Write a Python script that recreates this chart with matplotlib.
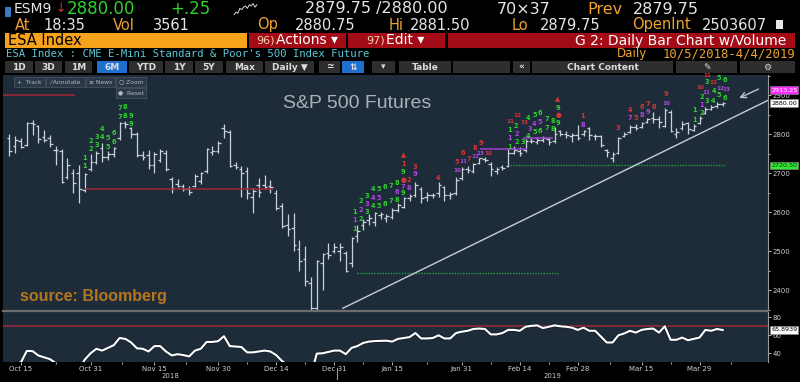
import matplotlib.pyplot as plt
import matplotlib.patches as patches
from matplotlib.lines import Line2D
import pandas as pd

W, H = 800, 382
NAVY = '#1e2c3a'
BAR = '#c9d1d9'
GREEN = '#2ed12e'
PURPLE = '#b046e0'
RED = '#d83434'
ORANGE = '#eda232'

# daily bars, first bar = 11 Oct 2018, last = 4 Apr 2019
opens = [2790, 2770, 2782, 2772, 2828, 2822, 2792, 2790, 2760, 2758,
         2690, 2700, 2700, 2658, 2712, 2730, 2765, 2742, 2750, 2790,
         2828, 2815, 2800, 2748, 2748, 2720, 2735, 2752, 2685, 2672,
         2668, 2660, 2668, 2680, 2705, 2755, 2758, 2815, 2805, 2722,
         2712, 2705, 2640, 2670, 2670, 2668, 2650, 2615, 2568, 2560,
         2505, 2480, 2420, 2355, 2470, 2495, 2500, 2500, 2495, 2470,
         2538, 2568, 2580, 2575, 2592, 2585, 2588, 2606, 2614, 2636,
         2645, 2660, 2640, 2645, 2650, 2665, 2645, 2650, 2688, 2712,
         2705, 2726, 2736, 2725, 2705, 2715, 2718, 2752, 2758, 2760,
         2782, 2780, 2786, 2788, 2782, 2808, 2800, 2795, 2798, 2800,
         2815, 2795, 2795, 2760, 2740, 2752, 2795, 2805, 2818, 2818,
         2832, 2842, 2840, 2820, 2858, 2800, 2815, 2828, 2810, 2830,
         2855, 2866, 2872, 2877]
highs = [2802, 2795, 2790, 2832, 2836, 2824, 2812, 2798, 2770, 2762,
         2738, 2712, 2722, 2700, 2750, 2758, 2778, 2756, 2768, 2831,
         2834, 2818, 2805, 2758, 2760, 2755, 2762, 2760, 2690, 2685,
         2672, 2668, 2698, 2703, 2765, 2770, 2782, 2826, 2810, 2728,
         2718, 2716, 2662, 2688, 2696, 2682, 2656, 2624, 2595, 2598,
         2528, 2513, 2435, 2478, 2495, 2522, 2520, 2522, 2500, 2537,
         2568, 2582, 2595, 2600, 2600, 2595, 2610, 2624, 2640, 2648,
         2678, 2664, 2652, 2650, 2678, 2668, 2652, 2690, 2716, 2718,
         2726, 2740, 2742, 2730, 2715, 2722, 2762, 2770, 2768, 2788,
         2790, 2792, 2795, 2792, 2819, 2812, 2808, 2804, 2824, 2812,
         2818, 2800, 2798, 2762, 2755, 2794, 2806, 2825, 2826, 2832,
         2842, 2858, 2848, 2867, 2862, 2815, 2835, 2832, 2826, 2846,
         2870, 2874, 2884, 2883]
lows = [2745, 2752, 2765, 2770, 2798, 2778, 2780, 2768, 2720, 2675,
        2685, 2650, 2623, 2652, 2705, 2725, 2730, 2735, 2742, 2785,
        2815, 2790, 2742, 2734, 2712, 2700, 2728, 2705, 2650, 2665,
        2655, 2645, 2665, 2672, 2700, 2748, 2752, 2790, 2716, 2712,
        2640, 2635, 2598, 2640, 2660, 2650, 2605, 2560, 2540, 2500,
        2450, 2410, 2335, 2320, 2400, 2480, 2495, 2475, 2447, 2460,
        2525, 2555, 2568, 2565, 2582, 2575, 2582, 2600, 2610, 2628,
        2640, 2624, 2630, 2636, 2640, 2628, 2635, 2645, 2683, 2700,
        2700, 2724, 2728, 2692, 2698, 2708, 2715, 2750, 2745, 2755,
        2778, 2774, 2780, 2772, 2778, 2795, 2790, 2780, 2785, 2795,
        2786, 2785, 2768, 2742, 2728, 2750, 2792, 2803, 2812, 2815,
        2828, 2830, 2815, 2818, 2805, 2790, 2812, 2800, 2808, 2826,
        2852, 2862, 2868, 2872]
closes = [2758, 2785, 2768, 2828, 2827, 2788, 2786, 2774, 2760, 2678,
          2722, 2676, 2660, 2698, 2730, 2752, 2742, 2750, 2764, 2830,
          2826, 2800, 2746, 2741, 2722, 2750, 2756, 2710, 2662, 2668,
          2660, 2652, 2694, 2700, 2763, 2756, 2778, 2808, 2718, 2716,
          2700, 2650, 2654, 2652, 2665, 2664, 2612, 2566, 2558, 2515,
          2475, 2425, 2355, 2475, 2492, 2490, 2512, 2512, 2450, 2533,
          2553, 2576, 2586, 2598, 2596, 2590, 2606, 2618, 2636, 2642,
          2670, 2636, 2645, 2644, 2670, 2645, 2648, 2684, 2710, 2708,
          2724, 2738, 2734, 2712, 2712, 2714, 2752, 2760, 2752, 2782,
          2784, 2786, 2790, 2780, 2800, 2802, 2799, 2798, 2790, 2808,
          2798, 2795, 2772, 2755, 2750, 2790, 2800, 2818, 2815, 2830,
          2840, 2838, 2831, 2862, 2808, 2806, 2826, 2813, 2822, 2842,
          2866, 2871, 2878, 2880]
rsi = [26, 28, 30, 42.6, 42.4, 37.5, 35.5, 33.5, 29, 22,
       27, 24, 22, 33, 40, 45, 43, 46, 49, 57,
       56, 52, 45.5, 45, 42, 48, 48, 42, 37.6, 39,
       38, 36.5, 43, 45, 52.6, 52.6, 53.5, 59, 48, 47.5,
       47, 41, 41, 42, 43, 42, 38, 31.5, 27, 24,
       21, 19, 16, 39.6, 40, 41.5, 43, 43, 39, 46,
       48, 51.5, 53, 53.6, 53.8, 54, 53, 56, 57, 58,
       62.5, 56.5, 56.5, 57, 60, 56.5, 56.5, 62.5, 64, 65,
       67, 67.5, 67, 61, 61, 62.5, 66, 66, 65, 69.5,
       70.5, 71, 68, 69.5, 71, 70, 69.5, 68.5, 66, 68.5,
       65, 65, 58.5, 52, 52, 60, 62, 65, 63, 66,
       67, 67.5, 63, 70, 55, 55, 57.5, 54.5, 56, 57.5,
       66, 65, 67, 65.89]

dates = pd.bdate_range('2018-10-11', '2019-04-04')
dates = dates[~dates.isin(pd.to_datetime(['2018-12-25', '2019-01-01']))]

tick_days = ['2018-10-15', '2018-10-31', '2018-11-15', '2018-11-30', '2018-12-14', '2018-12-31',
             '2019-01-15', '2019-01-31', '2019-02-14', '2019-02-28', '2019-03-15', '2019-03-29']
tick_names = ['Oct 15', 'Oct 31', 'Nov 15', 'Nov 30', 'Dec 14', 'Dec 31',
              'Jan 15', 'Jan 31', 'Feb 14', 'Feb 28', 'Mar 15', 'Mar 29']

# TD sequential counts: (bar position, price, text)
td_green = [
    (13, 2718, '1'), (14, 2762, '2'), (15, 2772, '3'), (16, 2792, '4'), (17, 2768, '5'),
    (18, 2781, '6'), (19, 2845, '7'), (20, 2847, '8'), (21, 2826, '9'),
    (13, 2740, '1'), (14, 2783, '2'), (15, 2793, '3'), (16, 2814, '4'), (17, 2790, '5'),
    (18, 2803, '6'), (19, 2867, '7'), (20, 2869, '8'), (21, 2848, '9'),
    (59.6, 2556, '1'), (60.6, 2583, '2'), (61.6, 2602, '3'), (62.7, 2615, '4'), (63.7, 2615, '5'),
    (64.8, 2620, '6'), (65.8, 2628, '7'), (66.8, 2632, '8'), (67.9, 2650, '9'),
    (59.6, 2602, '1'), (60.6, 2628, '2'), (61.6, 2643, '3'), (62.7, 2660, '4'), (63.7, 2660, '5'),
    (64.8, 2664, '6'), (65.8, 2668, '7'), (66.8, 2676, '8'), (67.9, 2704, '9'),
    (86.3, 2768, '1'), (87.5, 2781, '2'), (88.5, 2779, '3'), (89.4, 2796, '4'), (90.5, 2807, '5'),
    (91.5, 2808, '6'), (92.7, 2815, '7'), (93.7, 2813, '8'), (94.6, 2830, '9'),
    (86.3, 2811, '1'), (87.4, 2822, '2'), (89.5, 2841, '4'), (90.5, 2849, '5'),
    (91.5, 2854, '6'), (92.7, 2838, '7'), (93.7, 2835, '8'), (94.6, 2868, '9'),
    (118.2, 2836, '1'), (119.4, 2854, '2'), (120.3, 2886, '3'), (121.3, 2886, '4'),
    (122.3, 2900, '5'), (123.4, 2892, '6'),
    (118.2, 2862, '1'), (119.4, 2896, '2'), (120.3, 2933, '3'), (121.5, 2910, '4'),
    (122.3, 2944, '5'), (123.4, 2939, '6'),
]
td_purple = [
    (59.6, 2579, '1'), (60.6, 2607, '2'), (61.6, 2622, '3'), (62.7, 2637, '4'), (63.7, 2637, '5'),
    (66.8, 2653, '6'), (67.9, 2664, '7'), (68.9, 2662, '8'), (69.9, 2698, '9'),
    (77.2, 2706, '10'), (78.2, 2729, '11'), (80.3, 2742, '12'), (81.2, 2752, '13'),
    (86.3, 2790, '1'), (87.5, 2800, '2'), (89.7, 2813, '3'), (90.5, 2826, '4'), (91.5, 2832, '5'),
    (98.9, 2825, '8'),
    (107, 2841, '7'), (109.1, 2849, '8'), (110.1, 2856, '9'), (113.2, 2879, '10'),
    (119.4, 2875, '1'), (120.1, 2906, '11'), (122.5, 2918, '12'), (123.7, 2914, '13'),
]
td_red = [
    (67.9, 2746, '▲'), (67.9, 2724, '1'), (67.9, 2683, '●'), (68.9, 2683, '2'), (69.9, 2715, '3'),
    (73.9, 2689, '4'), (77.2, 2729, '5'), (78.2, 2752, '6'), (79.2, 2737, '7'), (80.3, 2765, '8'),
    (81.3, 2778, '9'), (82.5, 2752, '10'),
    (86.3, 2832, '11'), (87.5, 2847, '12'), (88.8, 2830, '13'),
    (94.6, 2890, '▲'), (94.6, 2849, '●'), (98.9, 2847, '1'),
    (104.9, 2817, '3'), (107, 2862, '4'), (108, 2841, '5'), (109.1, 2870, '6'), (110.1, 2877, '7'),
    (111.1, 2870, '8'), (113.2, 2903, '9'),
    (119.1, 2921, '10'), (120.3, 2950, '11'), (121.3, 2933, '12'),
]

# horizontal levels: price, first bar, last bar
red_levels = [(2900, -1.1, 11.3), (2660, 13, 45.5)]
purple_levels = [(2762, 81.1, 89.2), (2790, 88.6, 93.7)]
green_levels = [(2720.5, 86.3, 123.4), (2443.5, 60, 94.6)]
trend_x = [57.5, 130.8]
trend_y = [2354, 2887]
tags = [(2913.25, '#ff2bff', 'white'), (2880.00, 'white', 'black'), (2720.50, '#33e833', '#063306')]
spark = [2872, 2874, 2873, 2877, 2876, 2878, 2879, 2877, 2880, 2879, 2881, 2878, 2880]


def ftxt(x, y, s, color, size, **kw):
    fig.text(x / W, 1 - y / H, s, color=color, fontsize=size, va='center', **kw)


def fbox(x0, y0, x1, y1, color, **kw):
    fig.add_artist(patches.Rectangle((x0 / W, 1 - y1 / H), (x1 - x0) / W, (y1 - y0) / H,
                                     transform=fig.transFigure, facecolor=color,
                                     edgecolor=kw.pop('ec', 'none'), lw=0.6, **kw))


fig = plt.figure(figsize=(8, 3.82), dpi=100, facecolor='black')

# ---- header ---------------------------------------------------------
fbox(5, 7, 11, 17, '#3c78c8')
ftxt(14, 9, 'ESM9', '#e6e6e6', 10)
ftxt(55, 9, '↓', '#e03030', 9)
ftxt(67, 9, '2880.00', GREEN, 12)
ftxt(170, 9, '+.25', GREEN, 12)
ftxt(305, 9, '2879.75 /2880.00', '#e6e6e6', 11.5)
ftxt(497, 9, '70×37', '#e6e6e6', 11.5)
ftxt(587, 9, 'Prev', ORANGE, 11.5)
ftxt(633, 9, '2879.75', '#e6e6e6', 11.5)

row2 = [('At', 15, ORANGE), ('18:35', 43, '#e6e6e6'), ('Vol', 113, ORANGE), ('3561', 153, '#e6e6e6'),
        ('Op', 257, ORANGE), ('2880.75', 295, '#e6e6e6'), ('Hi', 389, ORANGE), ('2881.50', 410, '#e6e6e6'),
        ('Lo', 512, ORANGE), ('2879.75', 540, '#e6e6e6'), ('OpenInt', 632, ORANGE), ('2503607', 702, '#e6e6e6')]
for s, x, c in row2:
    ftxt(x, 25, s, c, 10.5)
fbox(776, 20, 783, 29, '#e6e6e6')

fbox(5, 33, 247, 48, '#f7a21b')
ftxt(8, 40.5, 'ESA Index', 'black', 10.5)
fbox(249, 33, 346, 48, '#a30b16')
ftxt(256, 40.5, '96)', '#f3d2b0', 8)
ftxt(276, 40.5, 'Actions ▾', 'white', 10)
fbox(348, 33, 445, 48, '#a30b16')
ftxt(366, 40.5, '97)', '#f3d2b0', 8)
ftxt(386, 40.5, 'Edit ▾', 'white', 10)
fbox(448, 33, 795, 48, '#a30b16')
ftxt(786, 40.5, 'G 2: Daily Bar Chart w/Volume', 'white', 10, ha='right')

ftxt(6, 54, "ESA Index : CME E-Mini Standard & Poor's 500 Index Future", '#5cc6d6', 7.7,
     family='DejaVu Sans Mono')
ftxt(617, 54, 'Daily', ORANGE, 8.6)
ftxt(795, 54, '10/5/2018-4/4/2019', ORANGE, 8.8, ha='right', family='DejaVu Sans Mono')

buttons = [('1D', 5, 33), ('3D', 35, 62), ('1M', 65, 92), ('6M', 97, 127), ('YTD', 129, 163),
           ('1Y', 165, 193), ('5Y', 195, 223), ('Max', 226, 263), ('Daily ▼', 265, 314),
           ('≃', 319, 340), ('⇅', 342, 364), ('▾', 372, 395), ('Table', 399, 451), ('', 453, 510),
           ('«', 513, 530), ('Chart Content', 532, 673), ('✎', 676, 737), ('⚙', 740, 795)]
for s, x0, x1 in buttons:
    fbox(x0, 61, x1, 73, '#1f6fd1' if s in ('6M', '⇅') else '#2e2e2e')
    ftxt((x0 + x1) / 2, 67, s, '#dcdcdc', 6.5, ha='center', fontweight='bold')

axs = fig.add_axes([233 / W, 1 - 15 / H, 25 / W, 12 / H])
axs.plot(spark, color='#d8d8d8', lw=0.7)
axs.axis('off')

# ---- price panel ----------------------------------------------------
ax = fig.add_axes([3 / W, 1 - 310 / H, 765 / W, 235 / H], facecolor=NAVY)
x = list(range(len(closes)))
ax.vlines(x, lows, highs, colors=BAR, lw=0.9)
ax.hlines(opens, [i - 0.45 for i in x], x, colors=BAR, lw=0.9)
ax.hlines(closes, x, [i + 0.45 for i in x], colors=BAR, lw=0.9)

for lvl, a, b in red_levels:
    ax.hlines(lvl, a, b, colors='#a3283a', lw=1.1)
for lvl, a, b in purple_levels:
    ax.hlines(lvl, a, b, colors='#a140d0', lw=1.1)
for lvl, a, b in green_levels:
    ax.hlines(lvl, a, b, colors='#1f9c3c', lw=1.0, linestyles=(0, (1, 1)))
ax.plot(trend_x, trend_y, color='#c6cfd7', lw=1.0)
ax.annotate('', xy=(125.4, 2890), xytext=(129.6, 2919),
            arrowprops=dict(arrowstyle='->', color='#b9c4cc', lw=1.0))

for marks, col in ((td_green, GREEN), (td_purple, PURPLE), (td_red, RED)):
    for px_, py_, s in marks:
        ax.text(px_, py_, s, color=col, fontsize=4.8 if len(s) == 1 else 4.1,
                fontweight='bold', ha='center', va='center')

ax.set_xlim(-1.1, 130.8)
ax.set_ylim(2349.5, 2952)
ax.set_xticks([])
ax.yaxis.tick_right()
ax.set_yticks([2400, 2500, 2600, 2700, 2800, 2900])
ax.set_yticks(range(2350, 2951, 50), minor=True)
ax.tick_params(axis='y', which='both', colors='#d0d0d0', labelsize=5, length=2, width=0.6, pad=1.5)
ax.tick_params(axis='y', which='minor', length=1.2)
for side in ('top', 'left', 'bottom'):
    ax.spines[side].set_visible(False)
ax.spines['right'].set_color('#9a9a9a')
ax.spines['right'].set_linewidth(0.8)

for v, fc, tc in tags:
    ax.text(1.004, v, f'{v:.2f}', transform=ax.get_yaxis_transform(), fontsize=4.6, color=tc,
            va='center', ha='left', clip_on=False,
            bbox=dict(boxstyle='square,pad=0.18', fc=fc, ec='#888888', lw=0.4))

ftxt(283, 103, 'S&P 500 Futures', '#a9b1b8', 14, family='Liberation Sans')
ftxt(20, 297, 'source: Bloomberg', '#b5761e', 11.5, family='Liberation Sans', fontweight='bold')

for s, x0, x1 in [('+  Track', 14, 45), ('⁄ Annotate', 46, 85), ('≡ News', 86, 115), ('○ Zoom', 116, 146)]:
    fbox(x0, 77, x1, 87, '#2b3845', ec='#44525f')
    ftxt((x0 + x1) / 2, 82, s, '#aeb8c2', 4.3, ha='center')
fbox(116, 88, 146, 98, '#2b3845', ec='#44525f')
ftxt(131, 93, '●  Reset', '#aeb8c2', 4.3, ha='center')

fig.add_artist(Line2D([3 / W, 768 / W], [1 - 311 / H] * 2, color='#6c6c6c', lw=1.6))

# ---- lower panel ----------------------------------------------------
ax2 = fig.add_axes([3 / W, 1 - 362 / H, 765 / W, 50 / H], facecolor=NAVY)
ax2.axhline(70, color='#a3283a', lw=1.1)
ax2.plot(x, rsi, color='#101820', lw=2.8, alpha=0.6)
ax2.plot(x, rsi, color='white', lw=1.5)
ax2.set_xlim(-1.1, 130.8)
ax2.set_ylim(30.3, 85.9)
ax2.yaxis.tick_right()
ax2.set_yticks([40, 60, 80])
ax2.tick_params(axis='y', colors='#d0d0d0', labelsize=5, length=2, width=0.6, pad=1.5)

ticks = [dates.get_loc(pd.Timestamp(d)) for d in tick_days]
ax2.set_xticks(ticks, tick_names)
minor = [(a + b) / 2 for a, b in zip(ticks[:-1], ticks[1:])] + [ticks[-1] + 5.5]
ax2.set_xticks(minor, minor=True)
ax2.tick_params(axis='x', which='both', colors='#d0d0d0', labelsize=5, length=2, width=0.6, pad=1)
ax2.tick_params(axis='x', which='minor', length=1.5)
for side in ('top', 'left', 'bottom'):
    ax2.spines[side].set_visible(False)
ax2.spines['right'].set_color('#9a9a9a')
ax2.spines['right'].set_linewidth(0.8)

ax2.text(1.004, rsi[-1], '65.8939', transform=ax2.get_yaxis_transform(), fontsize=4.6, color='black',
         va='center', ha='left', clip_on=False,
         bbox=dict(boxstyle='square,pad=0.18', fc='white', ec='#888888', lw=0.4))

year_cut = dates.get_loc(pd.Timestamp('2018-12-31')) + 0.5
ax2.plot([year_cut, year_cut], [-0.12, -0.34], transform=ax2.get_xaxis_transform(),
         color='#9a9a9a', lw=0.8, clip_on=False)
ax2.text((-1.1 + year_cut) / 2, -0.27, '2018', transform=ax2.get_xaxis_transform(),
         color='#c8c8c8', fontsize=5, ha='center', va='center')
ax2.text((year_cut + 130.8) / 2, -0.27, '2019', transform=ax2.get_xaxis_transform(),
         color='#c8c8c8', fontsize=5, ha='center', va='center')

fig.savefig('out.png', dpi=100, facecolor='black')
